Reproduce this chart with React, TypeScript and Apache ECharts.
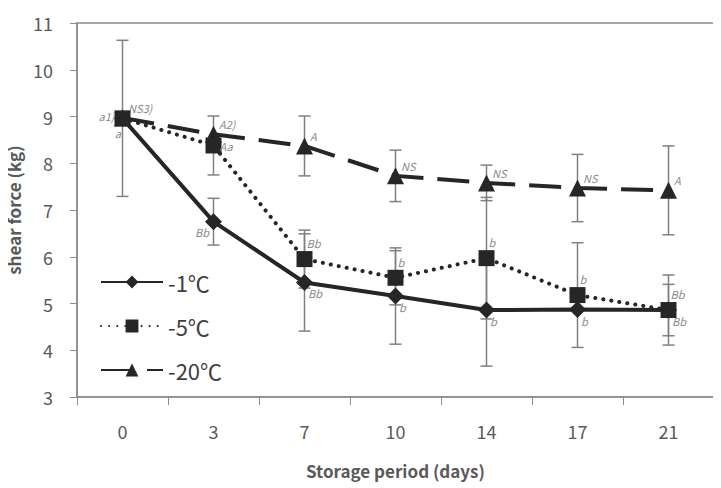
import React, { useEffect, useRef } from "react";
import * as echarts from "echarts";

// Storage days (category axis)
const days = ["0", "3", "7", "10", "14", "17", "21"];

// Mean shear force (kg) per storage temperature
const minus1 = [8.96, 6.75, 5.45, 5.16, 4.86, 4.87, 4.86];
const minus5 = [8.96, 8.38, 5.95, 5.55, 5.97, 5.18, 4.86];
const minus20 = [8.97, 8.62, 8.37, 7.73, 7.58, 7.47, 7.42];

// Standard deviations (error bars)
const sd1 = [1.67, 0.5, 1.04, 1.03, 1.2, 0, 0.55];
const sd5 = [0, 0.63, 0.62, 0.58, 1.3, 1.12, 0.75];
const sd20 = [0, 0, 0.64, 0.55, 0.38, 0.72, 0.95];

// Significance letters
const letters1 = ["a", "Bb", "Bb", "b", "b", "b", "Bb"];
const letters5 = ["a1)", "Aa", "Bb", "b", "b", "b", "Bb"];
const letters20 = ["NS3)", "A2)", "A", "NS", "NS", "NS", "A"];

const seriesNames = ["-1℃", "-5℃", "-20℃"];

const FONT = "'Noto Sans CJK KR', 'Noto Sans', sans-serif";
const INK = "#262626";
const BAR = "#808080";
const AXIS = "#8c8c8c";
const TEXT = "#595959";

const tagStyle = {
  show: true,
  fontSize: 11,
  fontStyle: "italic" as const,
  color: "#8a8a8a",
  fontFamily: FONT,
  distance: 0,
};

function withTags(values: number[], letters: string[], offset: number[], special: Record<number, any> = {}) {
  return values.map((v, i) => ({
    value: v,
    label: {
      ...tagStyle,
      formatter: letters[i],
      position: "right",
      offset,
      ...(special[i] || {}),
    },
  }));
}

function errorData(values: number[], sds: number[]) {
  return values
    .map((v, i) => [i, v + sds[i], v - sds[i], sds[i]])
    .filter((d) => d[3] > 0);
}

function renderErrorBar(params: any, api: any) {
  const hi = api.coord([api.value(0), api.value(1)]);
  const lo = api.coord([api.value(0), api.value(2)]);
  const cap = 6;
  const style = { stroke: BAR, lineWidth: 1.5 };
  return {
    type: "group",
    children: [
      { type: "line", shape: { x1: hi[0], y1: hi[1], x2: lo[0], y2: lo[1] }, style },
      { type: "line", shape: { x1: hi[0] - cap, y1: hi[1], x2: hi[0] + cap, y2: hi[1] }, style },
      { type: "line", shape: { x1: lo[0] - cap, y1: lo[1], x2: lo[0] + cap, y2: lo[1] }, style },
    ],
  };
}

export default function App() {
  const ref = useRef<HTMLDivElement>(null);

  useEffect(() => {
    if (!ref.current) return;
    const chart = echarts.init(ref.current, undefined, { renderer: "svg" });

    const errSeries = [
      [minus1, sd1],
      [minus5, sd5],
      [minus20, sd20],
    ].map(([vals, sds]) => ({
      type: "custom",
      renderItem: renderErrorBar,
      data: errorData(vals as number[], sds as number[]),
      z: 1,
      silent: true,
      encode: { x: 0, y: [1, 2] },
    }));

    chart.setOption({
      animation: false,
      backgroundColor: "#ffffff",
      textStyle: { fontFamily: FONT },
      grid: {
        left: 77,
        right: 7,
        top: 23,
        bottom: 91,
        outerBoundsMode: "none",
        containLabel: false,
        show: true,
        borderColor: AXIS,
        borderWidth: 1.5,
      },
      legend: {
        orient: "vertical",
        left: 95,
        top: 266,
        itemWidth: 62,
        itemHeight: 16,
        itemGap: 22,
        data: seriesNames,
        textStyle: { fontSize: 22, color: "#404040", fontFamily: FONT },
      },
      xAxis: {
        type: "category",
        data: days,
        boundaryGap: true,
        axisLine: { lineStyle: { color: AXIS, width: 1.5 } },
        axisTick: { show: true, length: 8, lineStyle: { color: AXIS } },
        axisLabel: { fontSize: 18, color: TEXT, margin: 25, fontFamily: FONT },
        name: "Storage period (days)",
        nameLocation: "middle",
        nameGap: 65,
        nameTextStyle: { fontSize: 17, fontWeight: "bold", color: TEXT, fontFamily: FONT },
      },
      yAxis: {
        type: "value",
        min: 3,
        max: 11,
        interval: 1,
        splitLine: { show: false },
        axisLine: { show: true, lineStyle: { color: AXIS, width: 1.5 } },
        axisTick: { show: true, length: 7, lineStyle: { color: AXIS } },
        axisLabel: { fontSize: 18, color: TEXT, margin: 24, fontFamily: FONT },
        name: "shear force (kg)",
        nameLocation: "middle",
        nameGap: 55,
        nameTextStyle: { fontSize: 17, fontWeight: "bold", color: TEXT, fontFamily: FONT },
      },
      series: [
        ...errSeries,
        {
          name: "-20℃",
          type: "line",
          z: 3,
          symbol: "triangle",
          symbolSize: 17,
          itemStyle: { color: INK },
          lineStyle: { color: INK, width: 4, type: [32, 14] },
          data: withTags(minus20, letters20, [-3, -10]),
        },
        {
          name: "-5℃",
          type: "line",
          z: 4,
          symbol: "rect",
          symbolSize: 16,
          itemStyle: { color: INK },
          lineStyle: { color: INK, width: 4, type: [0.1, 8], cap: "round" },
          data: withTags(minus5, letters5, [-6, -16], {
            0: { position: "left", offset: [0, -2] },
            1: { offset: [-2, 1] },
          }),
        },
        {
          name: "-1℃",
          type: "line",
          z: 5,
          symbol: "diamond",
          symbolSize: 17,
          itemStyle: { color: INK },
          lineStyle: { color: INK, width: 4 },
          data: withTags(minus1, letters1, [-5, 11], {
            0: { position: "left", offset: [7, 15] },
            1: { position: "left", offset: [4, 10] },
          }),
        },
      ],
    });

    return () => chart.dispose();
  }, []);

  return <div ref={ref} style={{ width: 721, height: 488, margin: "-8px 0 0 -8px" }} />;
}
